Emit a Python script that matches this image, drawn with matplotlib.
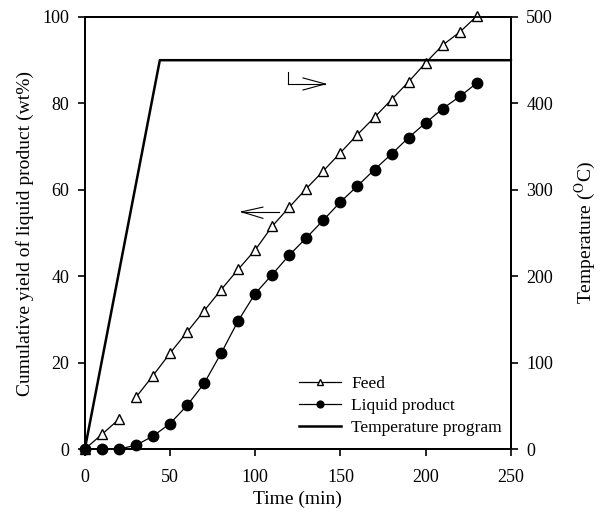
import matplotlib
matplotlib.use("Agg")
import matplotlib.pyplot as plt
import numpy as np

plt.rcParams['font.family'] = ['Liberation Serif', 'DejaVu Serif']
plt.rcParams['mathtext.fontset'] = 'stix'

# Data
time = [0, 10, 20, 30, 40, 50, 60, 70, 80, 90, 100, 110, 120, 130, 140, 150,
        160, 170, 180, 190, 200, 210, 220, 230]
feed = [0, 3.4, 6.9, 12.0, 17.0, 22.2, 27.1, 32.0, 36.9, 41.6, 46.1, 51.6, 56.0,
        60.3, 64.4, 68.6, 72.8, 76.8, 80.9, 85.0, 89.4, 93.5, 96.5, 100.2]
liquid = [0, 0, 0, 0.9, 3.0, 5.9, 10.1, 15.2, 22.2, 29.7, 36.0, 40.4, 44.9,
          48.9, 53.0, 57.2, 60.9, 64.7, 68.3, 72.1, 75.5, 78.8, 81.6, 84.7]
temp_time = [0, 44, 250]
temp_prog = [0, 450, 450]

fig = plt.figure(figsize=(6.06, 5.15), dpi=100)
ax = fig.add_axes([0.140, 0.128, 0.703, 0.839])
ax2 = ax.twinx()

fs = 13
lw_ax = 1.3

t = np.array(time); f = np.array(feed); l = np.array(liquid)
ax.plot(t[:3], f[:3], '-', color='black', lw=0.9, marker='^', mfc='white',
        mec='black', ms=7.5, mew=1.0, clip_on=False, zorder=5, label='Feed')
ax.plot(t[3:], f[3:], '-', color='black', lw=0.9, marker='^', mfc='white',
        mec='black', ms=7.5, mew=1.0, clip_on=False, zorder=5)
ax.plot(t, l, '-', color='black', lw=0.9, marker='o', mfc='black',
        mec='black', ms=7.5, clip_on=False, zorder=6, label='Liquid product')

ax2.plot(temp_time, temp_prog, '-', color='black', lw=1.8, clip_on=False)
ax.plot([], [], '-', color='black', lw=1.8, label='Temperature program')

ax.set_xlim(0, 250)
ax.set_ylim(0, 100)
ax2.set_ylim(0, 500)
ax.set_xticks([0, 50, 100, 150, 200, 250])
ax.set_yticks([0, 20, 40, 60, 80, 100])
ax2.set_yticks([0, 100, 200, 300, 400, 500])

for a in (ax, ax2):
    for s in a.spines.values():
        s.set_linewidth(lw_ax)
    a.tick_params(direction='out', length=5, width=1.2, labelsize=fs, pad=6)
ax.tick_params(axis='x', pad=9)
ax.tick_params(top=False)

ax.set_xlabel('Time (min)', fontsize=14, labelpad=4)
ax.set_ylabel('Cumulative yield of liquid product (wt%)', fontsize=14, labelpad=6)
ax2.set_ylabel(r'Temperature ($^{\mathrm{O}}$C)', fontsize=14, labelpad=14)

# Arrows
ax.plot([92, 114], [54.9, 54.9], color='black', lw=0.8)
ax.plot([92, 104.5], [54.9, 56.0], color='black', lw=0.8)
ax.plot([92, 104.5], [54.9, 53.4], color='black', lw=0.8)

ax.plot([119, 119], [84.5, 87.3], color='black', lw=0.8)
ax.plot([119, 141], [84.5, 84.5], color='black', lw=0.8)
ax.plot([141, 128], [84.5, 85.9], color='black', lw=0.8)
ax.plot([141, 128], [84.5, 83.1], color='black', lw=0.8)

leg = ax.legend(loc='lower right', bbox_to_anchor=(1.015, -0.005), frameon=False,
                fontsize=12.5, handlelength=2.4, handletextpad=0.6,
                labelspacing=0.32, markerscale=0.65)

fig.savefig('out.png', dpi=100)
